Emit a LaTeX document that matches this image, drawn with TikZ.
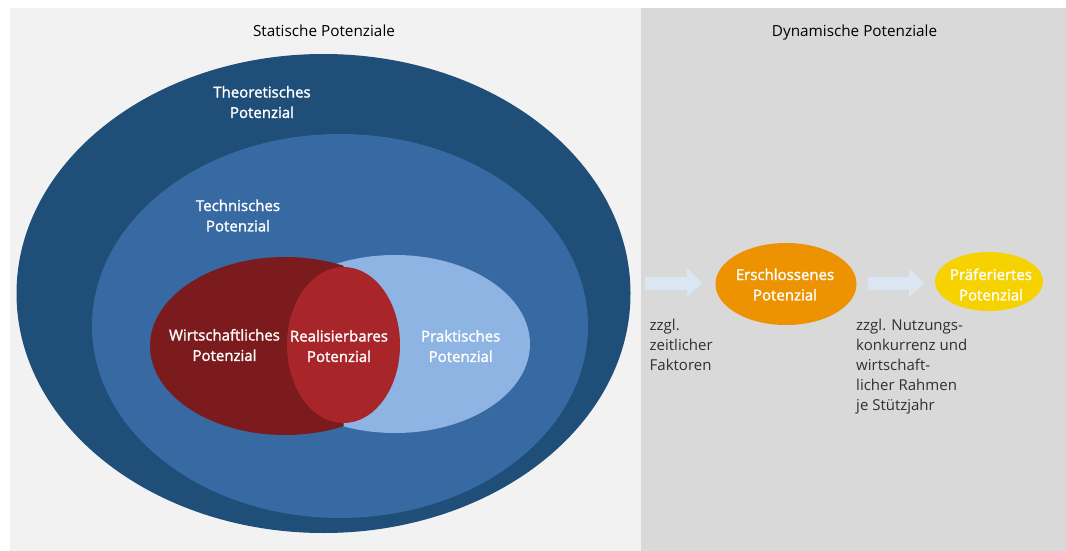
\documentclass[tikz,border=0pt]{standalone}
\usepackage{fontspec}
\setmainfont{Open Sans}
\newfontfamily\semibfont[FakeBold=1.6]{Open Sans}
\usetikzlibrary{shapes.geometric}
\definecolor{panelL}{HTML}{F2F2F2}
\definecolor{panelR}{HTML}{D9D9D9}
\definecolor{theoC}{HTML}{1F4E79}
\definecolor{techC}{HTML}{376AA3}
\definecolor{wirtC}{HTML}{7B1B1D}
\definecolor{realC}{HTML}{A8262A}
\definecolor{praktC}{HTML}{8DB4E2}
\definecolor{erschC}{HTML}{ED9200}
\definecolor{praefC}{HTML}{F6D300}
\definecolor{arrC}{HTML}{DAE6F2}
\definecolor{noteC}{HTML}{303030}
\newcommand{\lbltab}[1]{\begin{tabular}[t]{@{}c@{}}#1\end{tabular}}
\newcommand{\lefttab}[1]{\begin{tabular}[t]{@{}l@{}}#1\end{tabular}}
\begin{document}
\begin{tikzpicture}[x=1pt,y=-1pt,
  txt/.style={inner sep=0pt, anchor=base, font=\fontsize{15.3}{20.4}\selectfont},
  wlbl/.style={txt, text=white, font=\semibfont\fontsize{15}{20.4}\selectfont},
  note/.style={inner sep=0pt, anchor=base west, text=noteC, font=\fontsize{15}{20}\selectfont},
  blob/.style={ellipse, draw=none, inner sep=0pt}]
\useasboundingbox (0,0) rectangle (1066,551);
% panels
\fill[panelL] (9.7,8) rectangle (641,551);
\fill[panelR] (641,8) rectangle (1066,551);
% titles
\node[txt] (tstat) at (324,37) {Statische Potenziale};
\node[txt] (tdyn) at (854.5,37) {Dynamische Potenziale};
% static ellipses
\fill[theoC] (323.5,293.5) ellipse [x radius=307, y radius=239.5];
\fill[techC] (340,326) ellipse [x radius=248, y radius=192];
\fill[praktC] (395,344) ellipse [x radius=135, y radius=89];
\begin{scope}
  \clip (140,240) rectangle (343.5,450);
  \fill[wirtC] (285,346) ellipse [x radius=135, y radius=89];
\end{scope}
\fill[realC] (343.5,345) ellipse [x radius=56.5, y radius=78];
% static labels
\node[wlbl] (ltheo) at (262,97.5) {\lbltab{Theoretisches\\Potenzial}};
\node[wlbl] (ltech) at (238,211) {\lbltab{Technisches\\Potenzial}};
\node[wlbl] (lwirt) at (224.5,340.5) {\lbltab{Wirtschaftliches\\Potenzial}};
\node[wlbl] (lreal) at (339,341.5) {\lbltab{Realisierbares\\Potenzial}};
\node[wlbl] (lprakt) at (460.7,341.5) {\lbltab{Praktisches\\Potenzial}};
% dynamic part
\node[blob, fill=erschC, minimum width=141pt, minimum height=82pt] (ersch) at (786,284) {};
\node[blob, fill=praefC, minimum width=108pt, minimum height=59pt] (praef) at (989,281.5) {};
\node[wlbl] (lersch) at (785,280) {\lbltab{Erschlossenes\\Potenzial}};
\node[wlbl] (lpraef) at (991,280) {\lbltab{Präferiertes\\Potenzial}};
\fill[arrC] (645,277) -- (687,277) -- (687,268) -- (702,283) -- (687,297) -- (687,290) -- (645,290) -- cycle;
\fill[arrC] (868,277) -- (909,277) -- (909,268) -- (924,283) -- (909,297) -- (909,290) -- (868,290) -- cycle;
\node[note] (n1) at (649.5,330.7) {\lefttab{zzgl.\\zeitlicher\\Faktoren}};
\node[note] (n2) at (856,330.7) {\lefttab{zzgl. Nutzungs-\\konkurrenz und\\wirtschaft-\\licher Rahmen\\je Stützjahr}};
\end{tikzpicture}
\end{document}
